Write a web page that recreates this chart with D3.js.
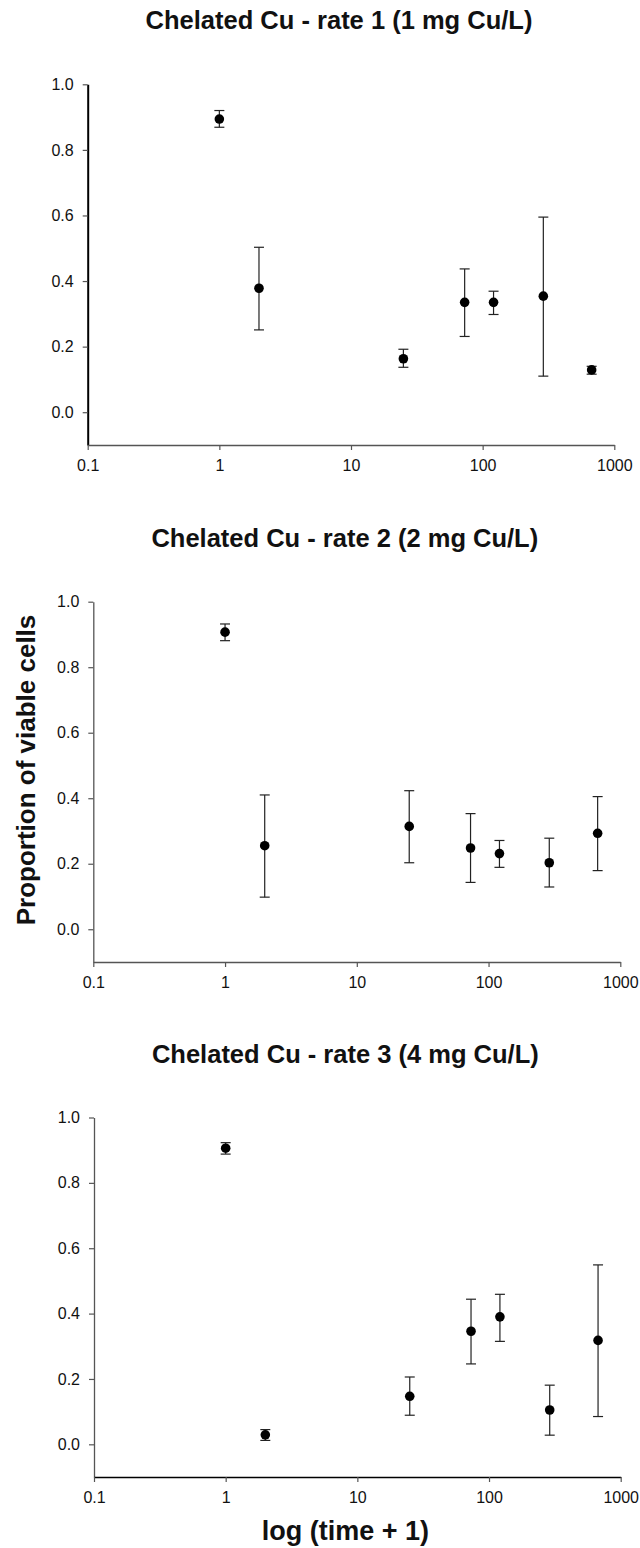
<!DOCTYPE html>
<html>
<head>
<meta charset="utf-8">
<script src="https://cdn.jsdelivr.net/npm/d3@7"></script>
<style>
  html, body { margin: 0; padding: 0; background: #fff; }
  svg { display: block; }
  text { font-family: "Liberation Sans", Arial, Helvetica, sans-serif; fill: #111; }
</style>
</head>
<body>
<svg id="chart" width="640" height="1548"></svg>
<script>
// ---- data ----
const timePlusOne = [1, 2, 25, 73, 121, 289, 673];
const xTickValues = [0.1, 1, 10, 100, 1000];
const xTickLabels = ["0.1", "1", "10", "100", "1000"];
const yTickValues = [0.0, 0.2, 0.4, 0.6, 0.8, 1.0];
const panelTitles = [
  "Chelated Cu - rate 1 (1 mg Cu/L)",
  "Chelated Cu - rate 2 (2 mg Cu/L)",
  "Chelated Cu - rate 3 (4 mg Cu/L)"
];
const rate1Mean  = [0.894, 0.378, 0.163, 0.335, 0.335, 0.354, 0.129];
const rate1Upper = [0.920, 0.503, 0.192, 0.437, 0.369, 0.595, 0.140];
const rate1Lower = [0.869, 0.251, 0.137, 0.231, 0.298, 0.110, 0.116];
const rate2Mean  = [0.907, 0.255, 0.314, 0.248, 0.231, 0.203, 0.293];
const rate2Upper = [0.932, 0.410, 0.423, 0.353, 0.271, 0.278, 0.405];
const rate2Lower = [0.881, 0.098, 0.203, 0.143, 0.189, 0.129, 0.179];
const rate3Mean  = [0.906, 0.029, 0.147, 0.346, 0.390, 0.105, 0.318];
const rate3Upper = [0.923, 0.045, 0.206, 0.444, 0.459, 0.181, 0.549];
const rate3Lower = [0.888, 0.012, 0.089, 0.246, 0.315, 0.028, 0.085];
const yLabel = "Proportion of viable cells";
const xLabel = "log (time + 1)";

const panels = [
  { title: panelTitles[0], mean: rate1Mean, up: rate1Upper, lo: rate1Lower,
    left: 87.7, right: 614.3, top: 84.3, bottom: 445,
    yAxisStyle: { stroke: "#000", width: 2 }, xAxisStyle: { stroke: "#555", width: 1.3 } },
  { title: panelTitles[1], mean: rate2Mean, up: rate2Upper, lo: rate2Lower,
    left: 93.3, right: 620.3, top: 601.7, bottom: 962,
    yAxisStyle: { stroke: "#555", width: 1.3 }, xAxisStyle: { stroke: "#555", width: 1.3 } },
  { title: panelTitles[2], mean: rate3Mean, up: rate3Upper, lo: rate3Lower,
    left: 94, right: 620.7, top: 1117.5, bottom: 1477,
    yAxisStyle: { stroke: "#555", width: 1.3 }, xAxisStyle: { stroke: "#000", width: 1.6 } }
];

const svg = d3.select("#chart");

panels.forEach((p, pi) => {
  const x = d3.scaleLog().domain([0.1, 1000]).range([p.left, p.right]);
  const y = d3.scaleLinear().domain([-0.1, 1.0]).range([p.bottom, p.top]);
  const g = svg.append("g");

  // title
  g.append("text")
    .attr("x", (p.left + p.right) / 2 - 12)
    .attr("y", p.top - 55)
    .attr("text-anchor", "middle")
    .style("font-size", "25.5px")
    .style("font-weight", "bold")
    .text(p.title);

  // y axis
  const yAxis = d3.axisLeft(y).tickValues(yTickValues).tickSize(5).tickSizeOuter(0)
    .tickPadding(9).tickFormat(d3.format(".1f"));
  const yg = g.append("g").attr("transform", `translate(${p.left},0)`).call(yAxis);
  yg.select(".domain").attr("stroke", p.yAxisStyle.stroke).attr("stroke-width", p.yAxisStyle.width);
  yg.selectAll(".tick line").attr("stroke", "#555").attr("stroke-width", 1.2);
  yg.selectAll(".tick text").style("font-size", "16px").style("font-family", "Liberation Sans, Arial, sans-serif").attr("fill", "#111");

  // x axis
  const xAxis = d3.axisBottom(x).tickValues(xTickValues).tickSize(5).tickSizeOuter(0)
    .tickPadding(10).tickFormat((d, i) => xTickLabels[i]);
  const xg = g.append("g").attr("transform", `translate(0,${p.bottom})`).call(xAxis);
  xg.select(".domain").attr("stroke", p.xAxisStyle.stroke).attr("stroke-width", p.xAxisStyle.width);
  xg.selectAll(".tick line").attr("stroke", "#555").attr("stroke-width", 1.2);
  xg.selectAll(".tick text").style("font-size", "16px").style("font-family", "Liberation Sans, Arial, sans-serif").attr("fill", "#111");

  const pts = timePlusOne.map((t, i) => ({ t, m: p.mean[i], u: p.up[i], l: p.lo[i] }));

  // error bars
  const eb = g.append("g").attr("stroke", "#222").attr("stroke-width", 1.2);
  eb.selectAll("line.v").data(pts).join("line").attr("class", "v")
    .attr("x1", d => x(d.t)).attr("x2", d => x(d.t))
    .attr("y1", d => y(d.u)).attr("y2", d => y(d.l));
  eb.selectAll("line.cu").data(pts).join("line").attr("class", "cu")
    .attr("x1", d => x(d.t) - 5).attr("x2", d => x(d.t) + 5)
    .attr("y1", d => y(d.u)).attr("y2", d => y(d.u));
  eb.selectAll("line.cl").data(pts).join("line").attr("class", "cl")
    .attr("x1", d => x(d.t) - 5).attr("x2", d => x(d.t) + 5)
    .attr("y1", d => y(d.l)).attr("y2", d => y(d.l));

  // points
  g.selectAll("circle").data(pts).join("circle")
    .attr("cx", d => x(d.t)).attr("cy", d => y(d.m)).attr("r", 4.8)
    .attr("fill", "#000");

  if (pi === 2) {
    g.append("text")
      .attr("x", (p.left + p.right) / 2 - 12)
      .attr("y", p.bottom + 63)
      .attr("text-anchor", "middle")
      .style("font-size", "27px")
      .style("font-weight", "bold")
      .text(xLabel);
  }
});

// shared y label
svg.append("text")
  .attr("transform", "translate(35,770) rotate(-90)")
  .attr("text-anchor", "middle")
  .style("font-size", "26px")
  .style("font-weight", "bold")
  .text(yLabel);
</script>
</body>
</html>
